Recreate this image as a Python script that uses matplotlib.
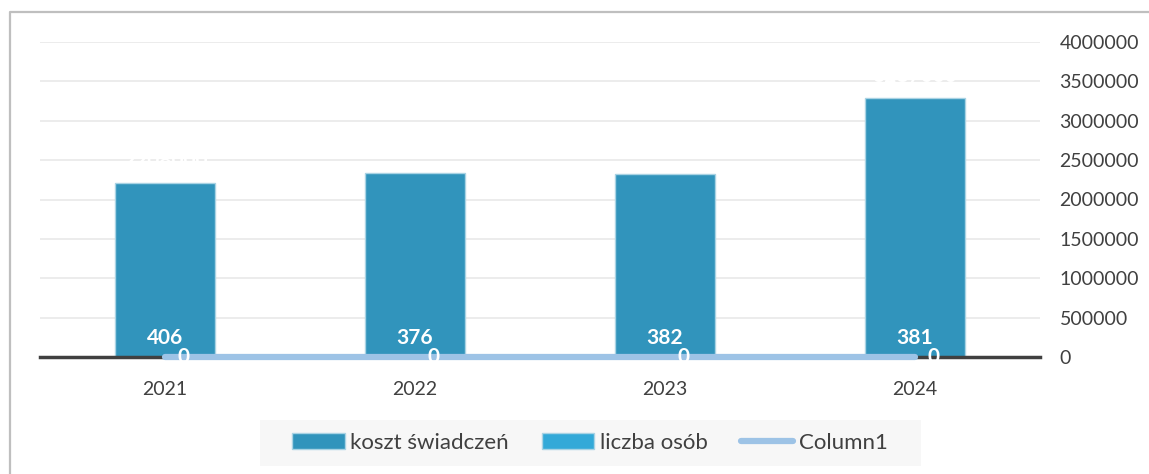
import matplotlib.pyplot as plt
from matplotlib.patches import Patch, Rectangle
from matplotlib.lines import Line2D

# Data
years = ['2021', '2022', '2023', '2024']
koszt = [2208000, 2335000, 2322000, 3287000]
liczba = [406, 376, 382, 381]
column1 = [0, 0, 0, 0]
yticks = [0, 500000, 1000000, 1500000, 2000000, 2500000, 3000000, 3500000, 4000000]

plt.rcParams['font.family'] = ['Lato', 'DejaVu Sans']

c_koszt = '#3194BC'
c_liczba = '#33A9D8'
c_col1 = '#9DC3E6'
txt = '#404040'

W, H = 1149, 474
fig = plt.figure(figsize=(W/100, H/100), dpi=100)
fig.patch.set_facecolor('white')

# outer frame (only left and top edges visible in the crop)
fx = 10/W
fy = (H-12)/H
fig.lines.append(Line2D([fx, fx, 1.0], [0.0, fy, fy], transform=fig.transFigure,
                        color='#BFBFBF', linewidth=1.6))

ax = fig.add_axes([40/W, 117/H, 1000/W, 315/H])
x = list(range(len(years)))

ax.bar(x, koszt, width=0.4, color=c_koszt, edgecolor='#A9D3E4', linewidth=1, zorder=2)
ax.bar(x, liczba, width=0.4, color=c_liczba, zorder=2)
ax.plot(x, column1, color=c_col1, linewidth=4.5, solid_capstyle='round',
        zorder=4, clip_on=False)

# labels
for xi, v in zip(x, koszt):
    ax.annotate(str(v), (xi, v), xytext=(0, 16), textcoords='offset points',
                ha='center', va='center', color='white', fontsize=15,
                fontweight='bold', zorder=5)
for xi, v in zip(x, liczba):
    ax.annotate(str(v), (xi, v), xytext=(0, 14), textcoords='offset points',
                ha='center', va='center', color='white', fontsize=15,
                fontweight='bold', zorder=5)
for xi, v in zip(x, column1):
    ax.annotate(str(v), (xi, v), xytext=(13, 0), textcoords='offset points',
                ha='center', va='center', color='white', fontsize=15,
                fontweight='bold', zorder=6, annotation_clip=False)

ax.set_xlim(-0.5, 3.5)
ax.set_ylim(0, 4000000)
ax.set_xticks(x)
ax.set_xticklabels(years)
ax.set_yticks(yticks)
ax.set_yticklabels([str(t) for t in yticks])
ax.yaxis.tick_right()
ax.tick_params(axis='y', length=0, pad=14, labelsize=14, labelcolor=txt)
ax.tick_params(axis='x', length=0, pad=17, labelsize=14, labelcolor=txt)
ax.grid(axis='y', color='#EBEBEB', linewidth=1.3, zorder=0)
ax.set_axisbelow(True)
for s in ['top', 'left', 'right']:
    ax.spines[s].set_visible(False)
ax.spines['bottom'].set_color('#404040')
ax.spines['bottom'].set_linewidth(2.5)
ax.spines['bottom'].set_zorder(3)

# legend background box
fig.patches.append(Rectangle((260/W, 1 - 466/H), 661/W, 46/H, transform=fig.transFigure,
                             facecolor='#F7F7F7', edgecolor='none', zorder=0))

handles = [Patch(facecolor=c_koszt, edgecolor='#A9D3E4', label='koszt świadczeń'),
           Patch(facecolor=c_liczba, edgecolor='#A9D3E4', label='liczba osób'),
           Line2D([0], [0], color=c_col1, linewidth=4.5, solid_capstyle='round', label='Column1')]
leg = fig.legend(handles=handles, loc='center', bbox_to_anchor=(590/W, 1 - 443/H),
                 ncol=3, frameon=False, fontsize=16, handlelength=2.35, handleheight=0.75,
                 handletextpad=0.25, columnspacing=1.5, borderpad=0, borderaxespad=0)
for t in leg.get_texts():
    t.set_color(txt)

fig.savefig('out.png', dpi=100)
